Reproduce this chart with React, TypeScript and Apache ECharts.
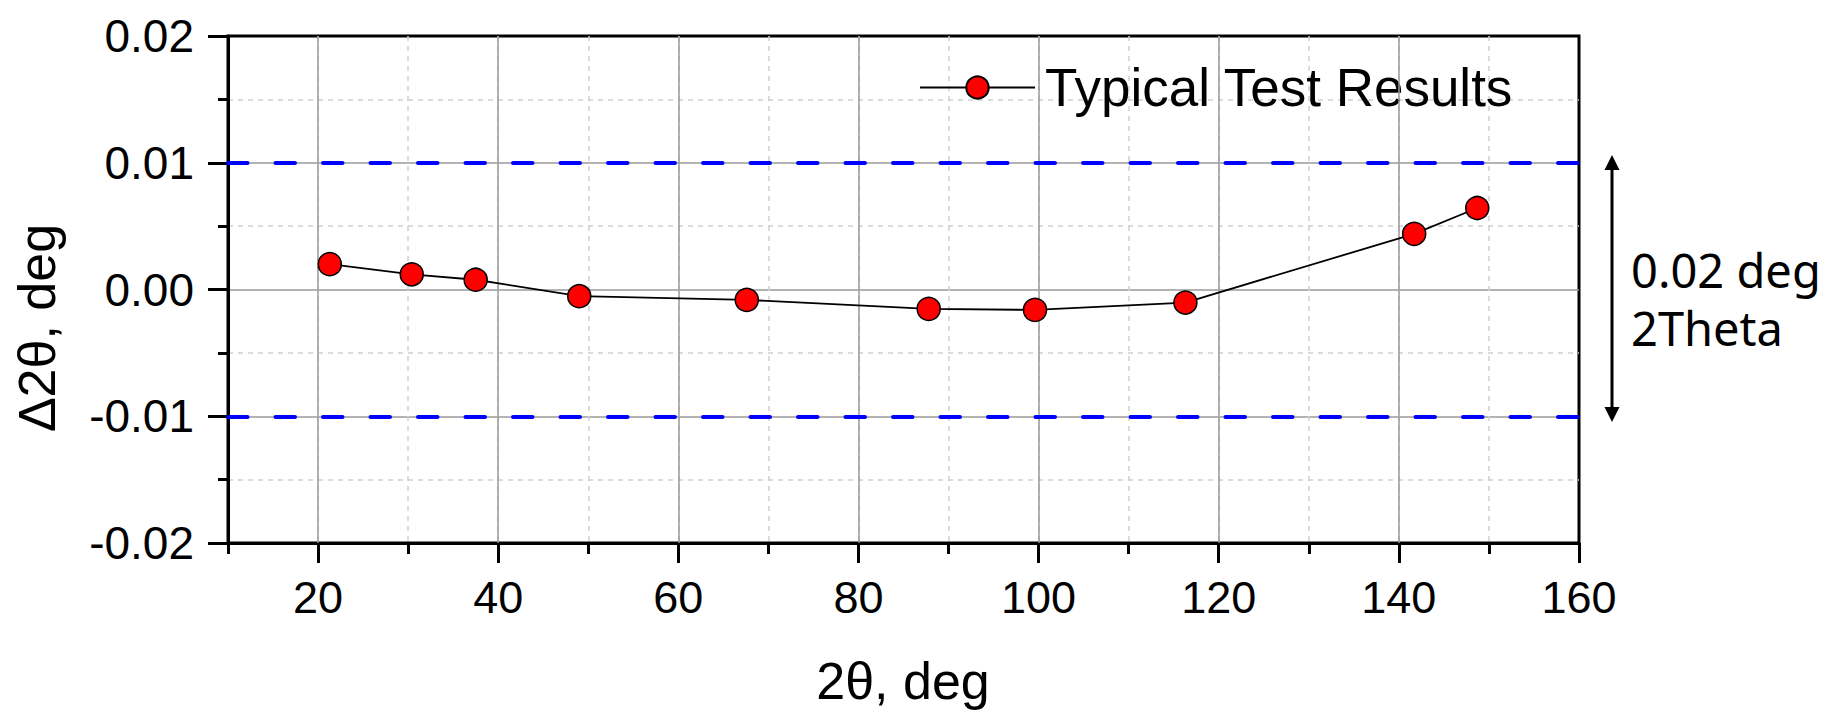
import React, { useEffect, useRef } from "react";
import * as echarts from "echarts";

// ---- data ----
const seriesName = "Typical Test Results";
const twoTheta = [21.3, 30.4, 37.5, 49.0, 67.6, 87.8, 99.6, 116.3, 141.7, 148.7];
const deltaTwoTheta = [0.002, 0.0012, 0.00077, -0.00053, -0.00082, -0.00153, -0.00161, -0.00103, 0.00439, 0.00643];
const xMajorTicks = [20, 40, 60, 80, 100, 120, 140, 160];
const xMajorGrid = [20, 40, 60, 80, 100, 120, 140];
const toleranceLimits = [0.01, -0.01];
const xTitle = "2θ, deg";
const yTitle = "Δ2θ, deg";
const noteLines = ["0.02 deg", "2Theta"];

const FONT = "'Liberation Sans', Arial, sans-serif";

export default function App() {
  const ref = useRef<HTMLDivElement>(null);

  useEffect(() => {
    if (!ref.current) return;
    const chart = echarts.init(ref.current, undefined, { renderer: "svg" });
    const points = twoTheta.map((x, i) => [x, deltaTwoTheta[i]]);

    chart.setOption({
      animation: false,
      backgroundColor: "#ffffff",
      grid: {
        left: 228,
        right: 248,
        top: 36,
        bottom: 168,
        show: true,
        borderColor: "#000",
        borderWidth: 3,
        backgroundColor: "transparent",
      },
      legend: {
        data: [seriesName],
        left: 919,
        top: 61,
        padding: 0,
        itemWidth: 115,
        itemHeight: 28,
        textStyle: {
          fontFamily: FONT,
          fontSize: 53,
          color: "#000",
          padding: [0, 0, 0, 5],
        },
      },
      xAxis: [
        {
          type: "value",
          min: 10,
          max: 160,
          interval: 10,
          position: "bottom",
          axisLine: { show: true, onZero: false, lineStyle: { color: "#000", width: 3 } },
          axisTick: { show: true, inside: false, length: 11, lineStyle: { color: "#000", width: 3 } },
          axisLabel: { show: false },
          splitLine: {
            show: true,
            showMinLine: false,
            showMaxLine: false,
            lineStyle: { color: "#cfcfcf", width: 1.5, type: [5, 5] },
          },
        },
        {
          type: "value",
          min: 10,
          max: 160,
          position: "bottom",
          axisLine: { show: false, onZero: false },
          axisTick: {
            show: true,
            inside: false,
            length: 20,
            customValues: xMajorTicks,
            lineStyle: { color: "#000", width: 3 },
          },
          axisLabel: {
            show: true,
            customValues: xMajorTicks,
            margin: 32,
            fontFamily: FONT,
            fontSize: 45,
            color: "#000",
          },
          splitLine: { show: false },
        },
      ],
      yAxis: {
        type: "value",
        min: -0.02,
        max: 0.02,
        interval: 0.01,
        axisLine: { show: true, onZero: false, lineStyle: { color: "#000", width: 3 } },
        axisTick: { show: true, inside: false, length: 20, lineStyle: { color: "#000", width: 3 } },
        minorTick: { show: true, splitNumber: 2, length: 10, lineStyle: { color: "#000", width: 3 } },
        axisLabel: {
          margin: 34,
          fontFamily: FONT,
          fontSize: 46,
          color: "#000",
          formatter: (v: number) => v.toFixed(2),
        },
        splitLine: {
          show: true,
          showMinLine: false,
          showMaxLine: false,
          lineStyle: { color: "#9a9a9a", width: 1.5 },
        },
        minorSplitLine: { show: true, lineStyle: { color: "#cfcfcf", width: 1.5, type: [5, 5] } },
      },
      series: [
        {
          name: "majorGrid",
          type: "line",
          data: [],
          xAxisIndex: 0,
          z: 1,
          silent: true,
          markLine: {
            silent: true,
            symbol: "none",
            label: { show: false },
            lineStyle: { color: "#9a9a9a", width: 1.5, type: "solid" },
            data: xMajorGrid.map((v) => ({ xAxis: v })),
          },
        },
        {
          name: "limits",
          type: "line",
          data: [],
          xAxisIndex: 0,
          z: 2,
          silent: true,
          markLine: {
            silent: true,
            symbol: "none",
            label: { show: false },
            lineStyle: { color: "#0000ff", width: 4, type: [19.5, 28], cap: "round" },
            data: toleranceLimits.map((v) => ({ yAxis: v })),
          },
        },
        {
          name: seriesName,
          type: "line",
          xAxisIndex: 0,
          z: 5,
          data: points,
          symbol: "circle",
          symbolSize: 23,
          lineStyle: { color: "#000", width: 1.8 },
          itemStyle: { color: "#ff0000", borderColor: "#000", borderWidth: 1.5 },
        },
      ],
      graphic: [
        {
          type: "text",
          x: 903,
          y: 681,
          style: {
            text: xTitle,
            fontFamily: FONT,
            fontSize: 52,
            fill: "#000",
            textAlign: "center",
            textVerticalAlign: "middle",
          },
        },
        {
          type: "text",
          x: 37,
          y: 328,
          rotation: Math.PI / 2,
          style: {
            text: yTitle,
            fontFamily: FONT,
            fontSize: 52,
            fill: "#000",
            textAlign: "center",
            textVerticalAlign: "middle",
          },
        },
        {
          type: "line",
          shape: { x1: 1612, y1: 166, x2: 1612, y2: 411 },
          style: { stroke: "#000", lineWidth: 3 },
        },
        {
          type: "polygon",
          shape: { points: [[1612, 155], [1604.5, 170], [1619.5, 170]] },
          style: { fill: "#000" },
        },
        {
          type: "polygon",
          shape: { points: [[1612, 422], [1604.5, 407], [1619.5, 407]] },
          style: { fill: "#000" },
        },
        {
          type: "text",
          x: 1631,
          y: 270,
          style: {
            text: noteLines[0],
            fontFamily: "'Noto Sans', sans-serif",
            fontSize: 47,
            fill: "#000",
            textAlign: "left",
            textVerticalAlign: "middle",
          },
        },
        {
          type: "text",
          x: 1631,
          y: 328,
          style: {
            text: noteLines[1],
            fontFamily: "'Noto Sans', sans-serif",
            fontSize: 47,
            fill: "#000",
            textAlign: "left",
            textVerticalAlign: "middle",
          },
        },
      ],
    });

    return () => chart.dispose();
  }, []);

  return (
    <div
      ref={ref}
      style={{ position: "fixed", left: 0, top: 0, width: 1827, height: 711, background: "#fff" }}
    />
  );
}
